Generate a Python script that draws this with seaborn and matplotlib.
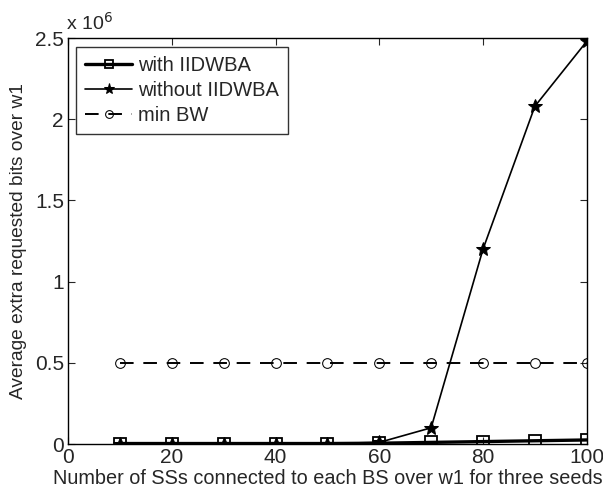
import matplotlib
matplotlib.use("Agg")
from matplotlib import pyplot as plt
import seaborn as sns

# number of SSs per BS
num_ss = [10, 20, 30, 40, 50, 60, 70, 80, 90, 100]
# average extra requested bits (x 1e6)
with_iidwba = [0.003, 0.003, 0.003, 0.003, 0.003, 0.005, 0.01, 0.015, 0.02, 0.025]
without_iidwba = [0.003, 0.003, 0.003, 0.003, 0.003, 0.01, 0.1, 1.2, 2.08, 2.48]
min_bw = [0.5, 0.5, 0.5, 0.5, 0.5, 0.5, 0.5, 0.5, 0.5, 0.5]

sns.set_style("ticks")
plt.rcParams["font.family"] = ["Liberation Sans", "DejaVu Sans"]

fig, ax = plt.subplots(figsize=(6.03, 4.95), dpi=100)
fig.subplots_adjust(left=0.113, right=0.973, top=0.923, bottom=0.103)

sns.lineplot(x=num_ss, y=[v * 1e6 for v in with_iidwba], ax=ax, color="black",
             marker="s", markersize=8, markerfacecolor="none", markeredgecolor="black",
             markeredgewidth=1.3, linewidth=2.4, label="with IIDWBA")
sns.lineplot(x=num_ss, y=[v * 1e6 for v in without_iidwba], ax=ax, color="black",
             marker="*", markersize=10, markeredgecolor="black", linewidth=1.2,
             label="without IIDWBA")
sns.lineplot(x=num_ss, y=[v * 1e6 for v in min_bw], ax=ax, color="black",
             marker="o", markersize=7, markerfacecolor="none", markeredgecolor="black",
             linewidth=1.4, linestyle=(0, (7, 5)), label="min BW")

ax.set_xlim(0, 100)
ax.set_ylim(0, 2.5e6)
ax.set_xticks([0, 20, 40, 60, 80, 100])
ax.set_yticks([0, 0.5e6, 1e6, 1.5e6, 2e6, 2.5e6])
ax.set_yticklabels(["0", "0.5", "1", "1.5", "2", "2.5"])
ax.tick_params(direction="in", length=5, labelsize=15, top=True, right=True, width=0.8, pad=3)
for s in ax.spines.values():
    s.set_linewidth(1.0)
    s.set_color("black")

ax.text(-0.005, 1.01, r"x 10$^{6}$", transform=ax.transAxes, fontsize=14, ha="left", va="bottom")
ax.set_xlabel("Number of SSs connected to each BS over w1 for three seeds", fontsize=14.3, labelpad=1)
ax.set_ylabel("Average extra requested bits over w1", fontsize=13.8, labelpad=6)

leg = ax.legend(loc="upper left", fontsize=14.5, frameon=True, fancybox=False,
                edgecolor="black", handlelength=2.35, borderpad=0.45, labelspacing=0.3,
                handletextpad=0.3, borderaxespad=0, bbox_to_anchor=(0.015, 0.978),
                markerscale=0.8)
leg.get_frame().set_linewidth(1.0)

fig.savefig("out.png", dpi=100)
